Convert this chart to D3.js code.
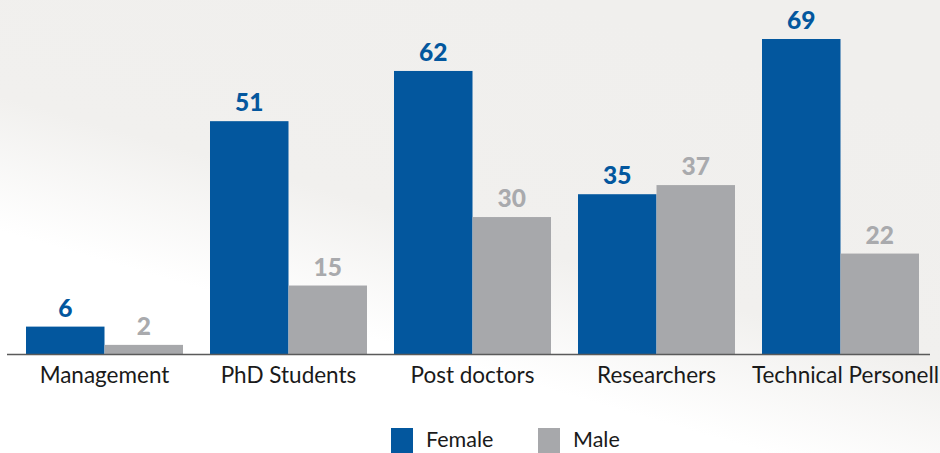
<!DOCTYPE html>
<html>
<head>
  <meta charset="utf-8">
  <title>Staff by gender</title>
  <script src="https://d3js.org/d3.v7.min.js"></script>
  <style>
    html, body { margin: 0; padding: 0; }
    svg { display: block; font-family: Lato, "Open Sans", sans-serif; }
  </style>
</head>
<body>
  <div id="chart"></div>
  <script>
    // data
    var categories = ["Management", "PhD Students", "Post doctors", "Researchers", "Technical Personell"];
    var series = ["Female", "Male"];
    var female = [6, 51, 62, 35, 69];
    var male = [2, 15, 30, 37, 22];
    var colors = ["#03579e", "#a7a8ab"];
    var labelColors = ["#03579e", "#a9aaad"];

    var width = 940, height = 453;
    var baseY = 354;

    var svg = d3.select("#chart").append("svg")
      .attr("width", width)
      .attr("height", height);

    // background with white diagonal sweep
    var defs = svg.append("defs");
    var grad = defs.append("linearGradient")
      .attr("id", "bg")
      .attr("x1", "0%").attr("y1", "100%")
      .attr("x2", "60%").attr("y2", "0%");
    grad.append("stop").attr("offset", "0%").attr("stop-color", "#ffffff");
    grad.append("stop").attr("offset", "36%").attr("stop-color", "#ffffff");
    grad.append("stop").attr("offset", "58%").attr("stop-color", "#f1f0ee");
    grad.append("stop").attr("offset", "100%").attr("stop-color", "#f0efed");
    svg.append("rect").attr("width", width).attr("height", height).attr("fill", "url(#bg)");

    var step = 184, pInner = 27 / step;
    var x0 = d3.scaleBand()
      .domain(categories)
      .range([12.5, 12.5 + step * categories.length])
      .paddingInner(pInner)
      .paddingOuter(pInner / 2);
    var x1 = d3.scaleBand()
      .domain(series)
      .range([0, x0.bandwidth()]);
    var y = d3.scaleLinear()
      .domain([0, 69])
      .range([baseY, 39]);

    var rows = categories.map(function (c, i) {
      return { cat: c, vals: [female[i], male[i]] };
    });

    var groups = svg.selectAll(".grp")
      .data(rows)
      .enter().append("g")
      .attr("class", "grp")
      .attr("transform", function (d) { return "translate(" + x0(d.cat) + ",0)"; });

    groups.selectAll("rect")
      .data(function (d) { return d.vals.map(function (v, j) { return { s: series[j], v: v, j: j }; }); })
      .enter().append("rect")
      .attr("x", function (d) { return x1(d.s); })
      .attr("width", x1.bandwidth())
      .attr("y", function (d) { return y(d.v); })
      .attr("height", function (d) { return baseY - y(d.v); })
      .attr("fill", function (d) { return colors[d.j]; });

    groups.selectAll(".val")
      .data(function (d) { return d.vals.map(function (v, j) { return { s: series[j], v: v, j: j }; }); })
      .enter().append("text")
      .attr("class", "val")
      .attr("x", function (d) { return x1(d.s) + x1.bandwidth() / 2; })
      .attr("y", function (d) { return y(d.v) - 10; })
      .attr("text-anchor", "middle")
      .attr("font-size", 24.5)
      .attr("font-weight", 900)
      .attr("fill", function (d) { return labelColors[d.j]; })
      .text(function (d) { return d.v; });

    // baseline
    svg.append("line")
      .attr("x1", 7).attr("x2", 930)
      .attr("y1", baseY + 0.5).attr("y2", baseY + 0.5)
      .attr("stroke", "#5a5a5a")
      .attr("stroke-width", 1.5);

    // category labels
    svg.selectAll(".cat")
      .data(categories)
      .enter().append("text")
      .attr("class", "cat")
      .attr("x", function (d, i) {
        var cx = x0(d) + x0.bandwidth() / 2;
        return i === categories.length - 1 ? cx + 5 : cx;
      })
      .attr("y", 383)
      .attr("text-anchor", "middle")
      .attr("font-size", 22.5)
      .attr("fill", "#1a1a1a")
      .text(function (d) { return d; });

    // legend
    var legX = [391, 538];
    var leg = svg.selectAll(".leg")
      .data(series)
      .enter().append("g")
      .attr("class", "leg")
      .attr("transform", function (d, i) { return "translate(" + legX[i] + ",428)"; });
    leg.append("rect")
      .attr("width", 22).attr("height", 26)
      .attr("fill", function (d, i) { return colors[i]; });
    leg.append("text")
      .attr("x", 35).attr("y", 19)
      .attr("font-size", 21.5)
      .attr("fill", "#1a1a1a")
      .text(function (d) { return d; });
  </script>
</body>
</html>
